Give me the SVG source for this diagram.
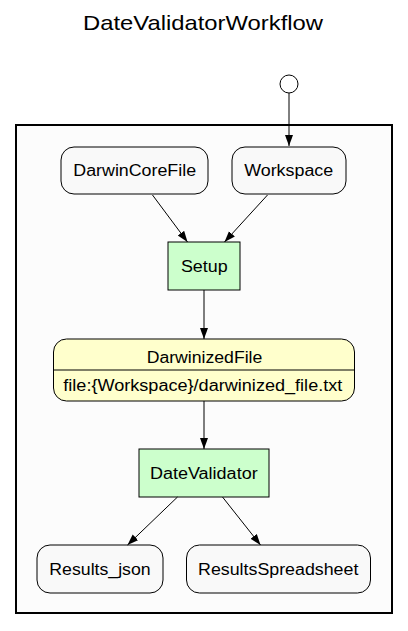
<svg xmlns="http://www.w3.org/2000/svg" width="408" height="631" viewBox="0 0 408 631">
<style>
text{font-family:"Liberation Sans",Arial,sans-serif;font-size:16px;fill:#000;text-anchor:middle}
.data{fill:#f9f9f9;stroke:#000;stroke-width:1}
.step{fill:#ccffcc;stroke:#000;stroke-width:1}
.file{fill:#ffffcc;stroke:#000;stroke-width:1}
.edge{stroke:#000;stroke-width:1;fill:none}
</style>
<defs>
<marker id="ah" viewBox="0 0 11 10" refX="11" refY="5" markerWidth="11" markerHeight="10" markerUnits="userSpaceOnUse" orient="auto">
<path d="M0,1 L11,5 L0,9 Z" fill="#000"/>
</marker>
</defs>
<rect width="408" height="631" fill="#fff"/>
<text x="203" y="30" style="font-size:21px" textLength="240" lengthAdjust="spacingAndGlyphs">DateValidatorWorkflow</text>
<rect x="16" y="125" width="376" height="488" fill="#fcfcfc" stroke="#000" stroke-width="2"/>
<g id="start"><circle cx="289" cy="84" r="9" fill="#fff" stroke="#000"/></g>
<g id="DarwinCoreFile"><rect class="data" x="61" y="147" width="147" height="47" rx="13"/><text x="134.7" y="176" textLength="122.7" lengthAdjust="spacingAndGlyphs">DarwinCoreFile</text></g>
<g id="Workspace"><rect class="data" x="232" y="147" width="114" height="47" rx="13"/><text x="288.7" y="176" textLength="89" lengthAdjust="spacingAndGlyphs">Workspace</text></g>
<g id="Setup"><rect class="step" x="168" y="242" width="72" height="48"/><text x="204.3" y="271.5" textLength="46.7" lengthAdjust="spacingAndGlyphs">Setup</text></g>
<g id="DarwinizedFile"><rect class="file" x="53.5" y="339" width="301" height="62" rx="13"/><line x1="53.5" y1="370" x2="354.5" y2="370" stroke="#000"/><text x="204.5" y="363" textLength="115.7" lengthAdjust="spacingAndGlyphs">DarwinizedFile</text><text x="202.8" y="390.5" textLength="279" lengthAdjust="spacingAndGlyphs">file:{Workspace}/darwinized_file.txt</text></g>
<g id="DateValidator"><rect class="step" x="139" y="449" width="130" height="48"/><text x="203.8" y="478.5" textLength="107.7" lengthAdjust="spacingAndGlyphs">DateValidator</text></g>
<g id="Results_json"><rect class="data" x="37" y="545" width="126" height="48" rx="13"/><text x="100" y="574.5" textLength="101.3" lengthAdjust="spacingAndGlyphs">Results_json</text></g>
<g id="ResultsSpreadsheet"><rect class="data" x="186.5" y="545" width="184" height="48" rx="13"/><text x="278.2" y="574.5" textLength="160.3" lengthAdjust="spacingAndGlyphs">ResultsSpreadsheet</text></g>
<g id="edges">
<line class="edge" x1="289" y1="93" x2="289" y2="146" marker-end="url(#ah)"/>
<line class="edge" x1="152.5" y1="195" x2="187.5" y2="242" marker-end="url(#ah)"/>
<line class="edge" x1="267.5" y1="195" x2="224.5" y2="242" marker-end="url(#ah)"/>
<line class="edge" x1="204" y1="290" x2="204" y2="339" marker-end="url(#ah)"/>
<line class="edge" x1="204" y1="401" x2="204" y2="449" marker-end="url(#ah)"/>
<line class="edge" x1="177.5" y1="497" x2="127.5" y2="545" marker-end="url(#ah)"/>
<line class="edge" x1="222.5" y1="497" x2="260.5" y2="545" marker-end="url(#ah)"/>
</g>
</svg>
